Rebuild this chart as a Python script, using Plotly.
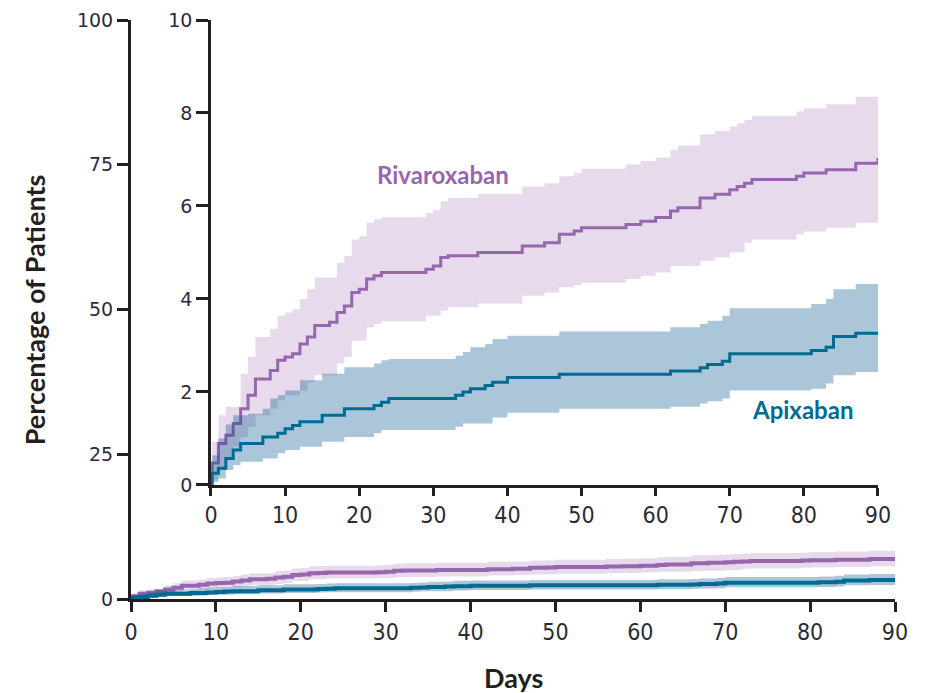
import plotly.graph_objects as go

# ---------------- data (percent of patients, cumulative) ----------------
riva_days = [0, 0.15, 1, 2, 3, 4, 5, 6, 8, 9, 10, 11, 12, 13, 14, 16, 17, 18, 19, 20, 21, 22, 23,
             29, 30, 31, 32, 36, 42, 45, 47, 49, 50, 56, 58, 60, 62, 63, 66, 68, 70, 71, 72, 73,
             79, 80, 83, 87, 90]
riva_est = [0.0, 0.47, 0.89, 1.07, 1.32, 1.64, 1.93, 2.28, 2.46, 2.68, 2.75, 2.82, 3.03, 3.18, 3.43,
            3.5, 3.71, 3.85, 4.14, 4.21, 4.43, 4.5, 4.57, 4.64, 4.71, 4.89, 4.93, 5.0, 5.14, 5.21,
            5.39, 5.46, 5.53, 5.6, 5.67, 5.75, 5.89, 5.96, 6.17, 6.25, 6.35, 6.42, 6.49, 6.57, 6.64,
            6.71, 6.78, 6.92, 7.03]
riva_upper = [0.0, 0.93, 1.5, 1.68, 1.68, 2.39, 2.75, 3.18, 3.36, 3.64, 3.71, 3.78, 4.0, 4.21, 4.46,
              4.46, 4.78, 4.93, 5.28, 5.35, 5.64, 5.71, 5.76, 5.85, 5.92, 6.1, 6.17, 6.26, 6.42,
              6.49, 6.64, 6.71, 6.8, 6.89, 6.97, 7.04, 7.21, 7.3, 7.54, 7.61, 7.71, 7.78, 7.85,
              7.94, 8.03, 8.1, 8.19, 8.35, 8.35]
riva_lower = [0.0, 0.1, 0.32, 0.57, 0.82, 1.03, 1.25, 1.5, 1.64, 1.82, 1.93, 1.93, 2.03, 2.21, 2.36,
              2.36, 2.61, 2.75, 3.1, 3.1, 3.39, 3.46, 3.52, 3.64, 3.64, 3.75, 3.82, 3.9, 4.07,
              4.14, 4.25, 4.3, 4.35, 4.43, 4.5, 4.57, 4.71, 4.71, 4.82, 4.89, 5.0, 5.0, 5.21,
              5.28, 5.39, 5.45, 5.53, 5.64, 5.64]

apix_days = [0, 0.15, 1, 2, 3, 4, 5, 7, 8, 9, 10, 11, 12, 15, 18, 22, 23, 24, 33, 34, 35, 37, 38,
             40, 47, 62, 66, 67, 69, 70, 81, 83, 84, 87, 90]
apix_est = [0.0, 0.25, 0.36, 0.57, 0.75, 0.89, 0.89, 1.03, 1.03, 1.11, 1.21, 1.28, 1.36, 1.5, 1.64,
            1.71, 1.78, 1.86, 1.93, 2.0, 2.07, 2.14, 2.21, 2.31, 2.38, 2.45, 2.52, 2.59, 2.66,
            2.82, 2.89, 2.96, 3.19, 3.26, 3.26]
apix_upper = [0.0, 0.64, 1.0, 1.3, 1.5, 1.5, 1.53, 1.64, 1.86, 1.93, 2.03, 2.03, 2.25, 2.39, 2.53,
              2.61, 2.68, 2.71, 2.78, 2.86, 2.96, 3.03, 3.14, 3.21, 3.3, 3.39, 3.46, 3.53, 3.64,
              3.8, 3.89, 4.0, 4.21, 4.32, 4.32]
apix_lower = [0.0, 0.07, 0.14, 0.32, 0.43, 0.5, 0.5, 0.57, 0.57, 0.68, 0.75, 0.75, 0.82, 0.93, 1.03,
              1.11, 1.18, 1.18, 1.25, 1.32, 1.32, 1.32, 1.45, 1.55, 1.64, 1.68, 1.75, 1.8, 1.86,
              2.03, 2.07, 2.18, 2.36, 2.43, 2.43]

x_ticks = [0, 10, 20, 30, 40, 50, 60, 70, 80, 90]
main_y_ticks = [0, 25, 50, 75, 100]
inset_y_ticks = [0, 2, 4, 6, 8, 10]

# ---------------- styles ----------------
RIVA_LINE = "#9767ae"
RIVA_BAND = "rgba(150,100,175,0.24)"
APIX_LINE = "#006b92"
APIX_BAND = "rgba(0,80,140,0.33)"
AXIS = "#231f20"
XTICKFONT = dict(family="Liberation Sans Narrow, DejaVu Sans Condensed, Roboto, sans-serif",
                 size=23, color="#2b2b33")
YTICKFONT = dict(family="DejaVu Sans, sans-serif", size=19, color="#2b2b40")
TITLEFONT = dict(family="Lato, sans-serif", size=27, color="#231f20")

fig = go.Figure()


def add_group(days, est, lo, hi, line_color, band_color, xa, ya, lw):
    fig.add_trace(go.Scatter(x=days, y=lo, xaxis=xa, yaxis=ya, mode="lines",
                             line=dict(width=0, shape="hv", color=band_color),
                             hoverinfo="skip", showlegend=False))
    fig.add_trace(go.Scatter(x=days, y=hi, xaxis=xa, yaxis=ya, mode="lines",
                             line=dict(width=0, shape="hv", color=band_color),
                             fill="tonexty", fillcolor=band_color,
                             hoverinfo="skip", showlegend=False))
    fig.add_trace(go.Scatter(x=days, y=est, xaxis=xa, yaxis=ya, mode="lines",
                             line=dict(width=lw, shape="hv", color=line_color),
                             showlegend=False))


# main chart (0-100 scale)
add_group(riva_days, riva_est, riva_lower, riva_upper, RIVA_LINE, RIVA_BAND, "x", "y", 4)
add_group(apix_days, apix_est, apix_lower, apix_upper, APIX_LINE, APIX_BAND, "x", "y", 4)
# inset (0-10 scale)
add_group(riva_days, riva_est, riva_lower, riva_upper, RIVA_LINE, RIVA_BAND, "x2", "y2", 3)
add_group(apix_days, apix_est, apix_lower, apix_upper, APIX_LINE, APIX_BAND, "x2", "y2", 3)

axis_common = dict(showgrid=False, zeroline=False, showline=True, linecolor=AXIS,
                   ticks="outside", tickcolor=AXIS, automargin=False)

fig.update_layout(
    width=925, height=693,
    margin=dict(l=123, r=38, t=12, b=102, autoexpand=False),
    paper_bgcolor="white", plot_bgcolor="white",
    xaxis=dict(domain=[0, 1], range=[0, 90], tickvals=x_ticks, linewidth=3,
               ticklen=10, tickwidth=3, tickfont=XTICKFONT, **axis_common),
    yaxis=dict(domain=[0, 1], range=[0, 100], tickvals=main_y_ticks, linewidth=3,
               ticklen=11, tickwidth=3, tickfont=YTICKFONT, **axis_common),
    xaxis2=dict(domain=[0.1047, 0.9777], range=[0, 90], tickvals=x_ticks, anchor="y2",
                linewidth=2.5, ticklen=8, tickwidth=2.5, tickfont=XTICKFONT, **axis_common),
    yaxis2=dict(domain=[0.197, 1.0], range=[0, 10], tickvals=inset_y_ticks, anchor="x2",
                linewidth=2.5, ticklen=12, tickwidth=2.5, tickfont=YTICKFONT, **axis_common),
    annotations=[
        dict(text="<b>Percentage of Patients</b>", xref="paper", yref="paper",
             x=-0.126, y=0.5, xanchor="center", yanchor="middle", textangle=-90,
             showarrow=False, font=TITLEFONT),
        dict(text="<b>Days</b>", xref="paper", yref="paper", x=0.5, y=-0.136,
             xanchor="center", yanchor="middle", showarrow=False, font=TITLEFONT),
        dict(text="<b>Rivaroxaban</b>", xref="x2", yref="y2", x=31.3, y=6.68,
             showarrow=False, font=dict(family="Lato, sans-serif", size=24, color=RIVA_LINE)),
        dict(text="<b>Apixaban</b>", xref="x2", yref="y2", x=79.8, y=1.63,
             showarrow=False, font=dict(family="Lato, sans-serif", size=24, color=APIX_LINE)),
    ],
)

fig.write_html("out.html")
